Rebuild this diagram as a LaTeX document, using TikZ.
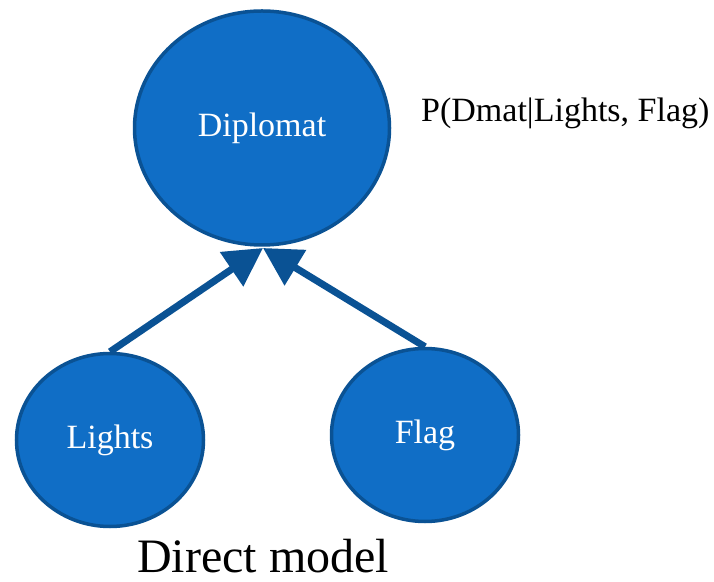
\documentclass[tikz,border=0pt]{standalone}
\usepackage{fontspec}
\setmainfont{Liberation Serif}
\usetikzlibrary{shapes.geometric,arrows.meta}
\definecolor{nodefill}{HTML}{106EC6}
\definecolor{nodeline}{HTML}{0A5294}
\tikzset{
  bnode/.style={ellipse, draw=nodeline, line width=3.5pt, fill=nodefill, text=white, font=\fontsize{34}{38}\selectfont, inner sep=0pt},
  conn/.style={draw=nodeline, line width=7pt, -{Triangle[length=38pt,width=40pt]}}
}
\begin{document}
\begin{tikzpicture}[x=1pt,y=1pt]
\useasboundingbox[fill=white] (0,0) rectangle (714,581);
\node[bnode, minimum width=255pt, minimum height=234pt] (D) at (262,453) {Diplomat};
\node[bnode, minimum width=187pt, minimum height=173pt] (L) at (110,141) {Lights};
\node[bnode, minimum width=187pt, minimum height=173pt] (F) at (425,146) {Flag};
\coordinate (T) at (263,333);
\draw[conn] (L.north) -- (T);
\draw[conn] (F.north) -- (T);
\node[anchor=base west, inner sep=0pt, font=\fontsize{34}{38}\selectfont] (P) at (421,459) {P(Dmat|Lights, Flag)};
\node[anchor=base west, inner sep=0pt, text depth=0pt, font=\fontsize{48}{54}\selectfont] (C) at (137,9) {Direct model};
\end{tikzpicture}
\end{document}
